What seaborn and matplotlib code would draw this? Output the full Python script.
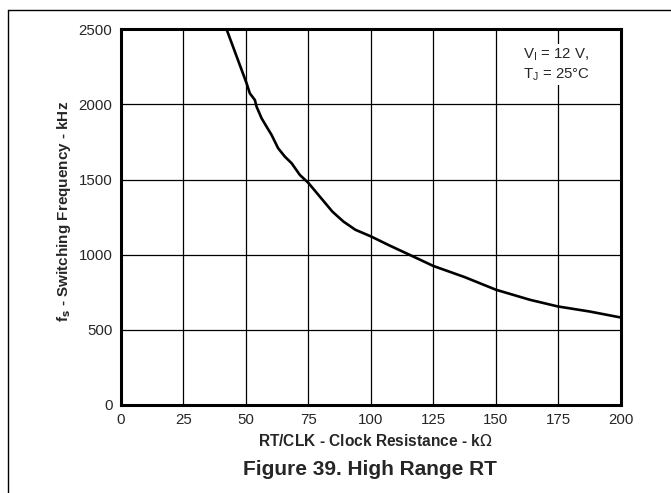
import matplotlib
matplotlib.use("Agg")
import matplotlib.pyplot as plt
from matplotlib.lines import Line2D
import pandas as pd
import seaborn as sns

# Courbe : RT (kOhm) -> fréquence de découpage (kHz)
rt_kohm = [42.3, 50.3, 51.6, 53.6, 54.3, 56.3, 58.3, 60.3, 62.9, 65.6, 68.3,
           71.6, 75, 84.6, 89, 93.8, 100, 107.5, 115.4, 125, 137.5, 150,
           163.6, 174.7, 187.5, 200]
fs_khz = [2500, 2141, 2074, 2030, 1985, 1908, 1852, 1797, 1709, 1653, 1609,
          1531, 1478, 1287, 1221, 1166, 1122, 1061, 1000, 925, 851, 767,
          700, 656, 622, 582]
x_ticks = [0, 25, 50, 75, 100, 125, 150, 175, 200]
y_ticks = [0, 500, 1000, 1500, 2000, 2500]

sns.set_style("white")
plt.rcParams["font.family"] = ["Liberation Sans", "DejaVu Sans"]

df = pd.DataFrame({"rt": rt_kohm, "fs": fs_khz})

fig = plt.figure(figsize=(6.71, 4.93), dpi=100)
ax = fig.add_axes([0.18, 0.1785, 0.7455, 0.762])

# Grille noire façon datasheet
for xv in x_ticks[1:-1]:
    ax.axvline(xv, color="black", lw=0.9, zorder=1)
for yv in y_ticks[1:-1]:
    ax.axhline(yv, color="black", lw=0.9, zorder=1)

sns.lineplot(data=df, x="rt", y="fs", color="black", lw=1.9, ax=ax, zorder=3)

ax.set_xlim(0, 200)
ax.set_ylim(0, 2500)
ax.set_xticks(x_ticks)
ax.set_yticks(y_ticks)
ax.tick_params(length=0, labelsize=10.8, pad=6)
for s in ax.spines.values():
    s.set_visible(True)
    s.set_color("black")
    s.set_linewidth(2.2)

ax.set_xlabel(r"RT/CLK - Clock Resistance - k$\Omega$", fontsize=11.2,
              fontweight="bold")
ax.xaxis.set_label_coords(0.509, -0.096)
ax.xaxis.label.set_va("center")
ax.set_ylabel(r"f$_\mathbf{s}$ - Switching Frequency - kHz", fontsize=11,
              fontweight="bold")
ax.yaxis.set_label_coords(-0.095, 0.516)

ax.text(161, 2390, "V$_\\mathregular{I}$ = 12 V,\nT$_\\mathregular{J}$ = 25°C",
        fontsize=10.8, va="top", ha="left", linespacing=1.3, zorder=4,
        bbox=dict(facecolor="white", edgecolor="none", pad=1.5))

fig.text(0.551, 0.047, "Figure 39. High Range RT", ha="center", va="center",
         fontsize=15, fontweight="bold")

# Cadre extérieur (haut + gauche seulement, comme l'image recadrée)
fig.add_artist(Line2D([8 / 671, 1], [1 - 10 / 493, 1 - 10 / 493],
                      color="black", lw=1))
fig.add_artist(Line2D([8 / 671, 8 / 671], [0, 1 - 10 / 493],
                      color="black", lw=1))

fig.savefig("out.png", dpi=100)
plt.close(fig)
